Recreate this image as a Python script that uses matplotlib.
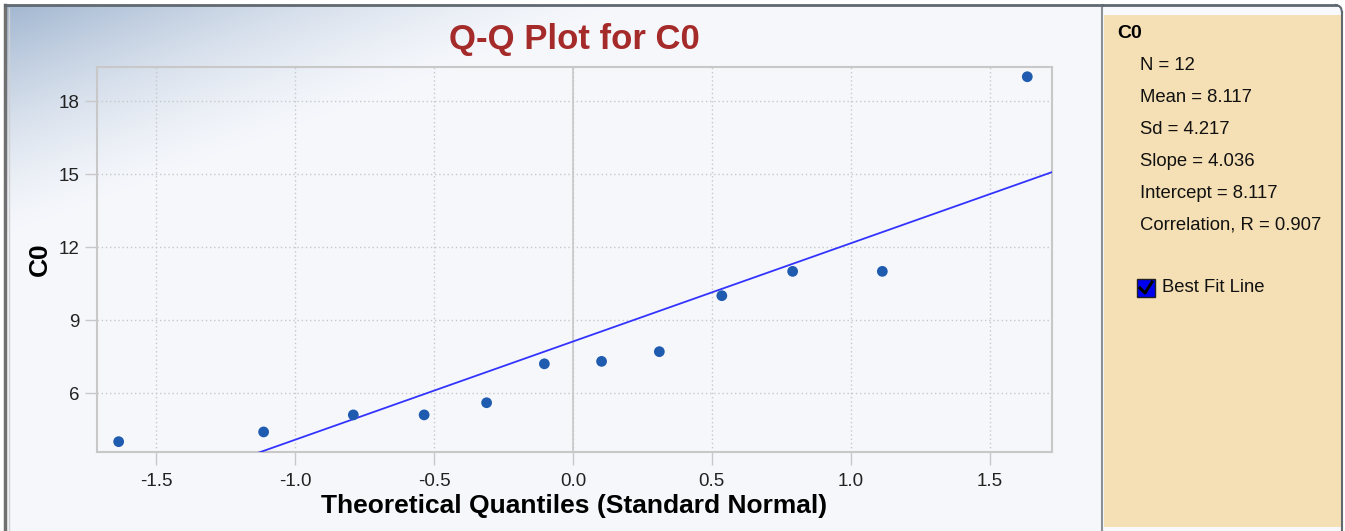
import numpy as np
import matplotlib
matplotlib.use("Agg")
import matplotlib.pyplot as plt
from matplotlib.patches import Rectangle

plt.rcParams['font.family'] = ['Liberation Sans', 'DejaVu Sans']

# sample values and their theoretical normal quantiles (Blom positions)
theoretical_q = [-1.636, -1.114, -0.791, -0.536, -0.311, -0.103,
                 0.103, 0.311, 0.536, 0.791, 1.114, 1.636]
sample_c0 = [4.0, 4.4, 5.1, 5.1, 5.6, 7.2, 7.3, 7.7, 10.0, 11.0, 11.0, 19.0]

slope = 4.036
intercept = 8.117

stat_labels = ["N = 12", "Mean = 8.117", "Sd = 4.217", "Slope = 4.036",
               "Intercept = 8.117", "Correlation, R = 0.907"]
x_ticks = [-1.5, -1.0, -0.5, 0.0, 0.5, 1.0, 1.5]
y_ticks = [6, 9, 12, 15, 18]

W, H = 1345, 531
fig = plt.figure(figsize=(W / 100, H / 100), dpi=100)
fig.patch.set_facecolor('white')

# background layer in pixel coordinates
bg = fig.add_axes([0, 0, 1, 1], zorder=-5)
bg.set_xlim(0, W)
bg.set_ylim(H, 0)
bg.axis('off')

# diagonal blue-to-white gradient on the chart panel
gx, gy = np.meshgrid(np.linspace(0, 1098, 400), np.linspace(0, 526, 200))
d = gx / 640 + gy / 240
w = np.clip(1 - d, 0, 1) ** 1.5
dark = np.array([0.64, 0.72, 0.82])
light = np.array([0.965, 0.972, 0.988])
img = light[None, None, :] + (dark - light)[None, None, :] * w[:, :, None]
bg.imshow(img, extent=[6, 1102, 531, 6], aspect='auto', interpolation='bilinear')

# chart panel frame
bg.plot([5, 5], [531, 5], color='#707070', lw=2.5)
bg.plot([5, 1102], [5, 5], color='#606870', lw=2)
bg.plot([9, 9], [531, 8], color='#d0d0d0', lw=1)

# info panel on the right
bg.add_patch(Rectangle((1102, 5), 240, 526, facecolor='#f7f9fc', edgecolor='none'))
bg.add_patch(Rectangle((1104, 15), 237, 512, facecolor='#f5dfb4', edgecolor='none'))
bg.plot([1102, 1102], [531, 5], color='#8a9098', lw=1.5)
bg.plot([1102, 1336], [5, 5], color='#606870', lw=2)
bg.plot([1342, 1342], [12, 531], color='#606870', lw=1.5)
bg.plot([1336, 1339, 1341, 1342], [5, 6, 8, 12], color='#606870', lw=1.5)

bg.text(1117, 33, "C0", fontsize=14, fontweight='bold', va='center', ha='left')
for i, s in enumerate(stat_labels):
    bg.text(1140, 66 + i * 31.8, s, fontsize=13.3, va='center', ha='left', color='#111111')

# checkbox for the fit line
bg.add_patch(Rectangle((1137, 279), 18, 18, facecolor='#0000f0', edgecolor='#202020', lw=1))
bg.plot([1140, 1145, 1152], [288, 293, 282], color='black', lw=2.2)
bg.text(1162, 288, "Best Fit Line", fontsize=13.3, va='center', ha='left', color='#111111')

# plot area
x0, x1, y0, y1 = 97, 1052, 67, 452
ax = fig.add_axes([x0 / W, 1 - y1 / H, (x1 - x0) / W, (y1 - y0) / H])
ax.set_facecolor('none')
ax.set_xlim(-1.714, 1.725)
ax.set_ylim(3.575, 19.4)

ax.set_xticks(x_ticks)
ax.set_xticklabels([f"{v:.1f}" for v in x_ticks])
ax.set_yticks(y_ticks)
ax.grid(True, color='#c8c8c8', linestyle=(0, (1, 2)), lw=1)
ax.axvline(0, color='#c8c8c8', lw=1.2, zorder=1)
for sp in ax.spines.values():
    sp.set_color('#c8c8c8')
    sp.set_linewidth(1.5)
ax.tick_params(axis='both', colors='#c8c8c8', length=9, width=1,
               labelsize=13.5, labelcolor='#222222')
ax.tick_params(axis='x', pad=6)

xs = np.array([-1.714, 1.725])
ax.plot(xs, intercept + slope * xs, color='#3333ff', lw=1.3, zorder=3)
ax.scatter(theoretical_q, sample_c0, s=60, color='#1f5cb0', zorder=4, edgecolors='none')

ax.set_title("Q-Q Plot for C0", fontsize=25, fontweight='bold', color='#a52a2a', pad=13)
ax.set_xlabel("Theoretical Quantiles (Standard Normal)", fontsize=19, fontweight='bold', labelpad=3)
ax.set_ylabel("C0", fontsize=19, fontweight='bold', labelpad=5)

fig.savefig("out.png", dpi=100)
